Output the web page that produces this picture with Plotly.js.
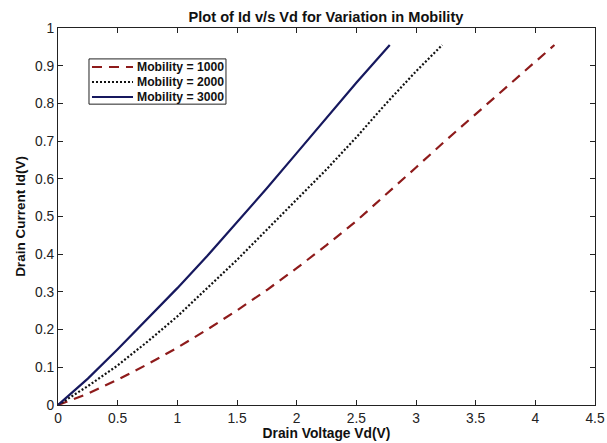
<!DOCTYPE html>
<html>
<head>
<meta charset="utf-8">
<script src="https://cdn.plot.ly/plotly-3.0.1.min.js"></script>
<style>html,body{margin:0;padding:0;background:#fff;}#chart{width:607px;height:443px;}</style>
</head>
<body>
<div id="chart"></div>
<script>
// Mobility = 1000
const vd1000 = [0, 0.25, 0.5, 0.75, 1, 1.25, 1.5, 1.75, 2, 2.25, 2.5, 2.75, 3, 3.25, 3.5, 3.75, 4, 4.16];
const id1000 = [0, 0.03, 0.067, 0.108, 0.152, 0.2, 0.251, 0.305, 0.363, 0.424, 0.488, 0.558, 0.63, 0.702, 0.772, 0.842, 0.91, 0.955];
// Mobility = 2000
const vd2000 = [0, 0.25, 0.5, 0.75, 1, 1.25, 1.5, 1.75, 2, 2.25, 2.5, 2.75, 3, 3.22];
const id2000 = [0, 0.05, 0.105, 0.168, 0.235, 0.31, 0.385, 0.465, 0.545, 0.625, 0.71, 0.8, 0.885, 0.955];
// Mobility = 3000
const vd3000 = [0, 0.25, 0.5, 0.75, 1, 1.25, 1.5, 1.75, 2, 2.25, 2.5, 2.78];
const id3000 = [0, 0.07, 0.148, 0.228, 0.31, 0.395, 0.485, 0.575, 0.668, 0.76, 0.855, 0.955];

const names = ['Mobility = 1000', 'Mobility = 2000', 'Mobility = 3000'];
const xTicks = [0, 0.5, 1, 1.5, 2, 2.5, 3, 3.5, 4, 4.5];
const yTicks = [0, 0.1, 0.2, 0.3, 0.4, 0.5, 0.6, 0.7, 0.8, 0.9, 1];

const FONT = 'Liberation Sans, Arial, sans-serif';
const lineStyles = [
  {color: '#8e1b1b', width: 2.2, dash: '10px,7px'},
  {color: '#111111', width: 2.2, dash: '2px,2px'},
  {color: '#16185e', width: 2.2}
];
const series = [[vd1000, id1000], [vd2000, id2000], [vd3000, id3000]];

const traces = series.map((s, i) => ({
  x: s[0], y: s[1], name: names[i], mode: 'lines', line: lineStyles[i], showlegend: false
}));

// Custom legend (MATLAB-style compact box), placed in paper coordinates
const legX0 = 0.0577, legX1 = 0.3128, legY0 = 0.798, legY1 = 0.918;
const rowY = [0.8966, 0.8568, 0.8170];
const shapes = [{type: 'rect', xref: 'paper', yref: 'paper', x0: legX0, x1: legX1, y0: legY0, y1: legY1,
                 line: {color: '#222', width: 1}, fillcolor: '#fff', layer: 'above'}];
const annotations = [];
names.forEach((n, i) => {
  shapes.push({type: 'line', xref: 'paper', yref: 'paper', x0: 0.0633, x1: 0.1397, y0: rowY[i], y1: rowY[i],
               line: lineStyles[i], layer: 'above'});
  annotations.push({xref: 'paper', yref: 'paper', x: 0.1425, y: rowY[i], xanchor: 'left', yanchor: 'middle',
                    text: '<b>' + n + '</b>', showarrow: false, font: {family: FONT, size: 12.2, color: '#111'}});
});

const axisCommon = {
  showgrid: false, zeroline: false, showline: true, linecolor: '#222', linewidth: 1,
  mirror: 'ticks', ticks: 'inside', ticklen: 5, tickcolor: '#222',
  tickfont: {family: FONT, size: 13.8, color: '#222'}
};

const layout = {
  width: 607, height: 443,
  margin: {l: 58, r: 12, t: 28, b: 38},
  paper_bgcolor: '#fff', plot_bgcolor: '#fff',
  title: {text: '<b>Plot of Id v/s Vd for Variation in Mobility</b>', x: 0.537, xanchor: 'center', y: 0.962, yanchor: 'middle',
          font: {family: FONT, size: 14.6, color: '#111'}},
  xaxis: Object.assign({}, axisCommon, {
    range: [0, 4.5], tickvals: xTicks, ticktext: xTicks.map(String),
    title: {text: '<b>Drain Voltage Vd(V)</b>', standoff: 3, font: {family: FONT, size: 13.8, color: '#111'}}
  }),
  yaxis: Object.assign({}, axisCommon, {
    range: [0, 1], tickvals: yTicks, ticktext: yTicks.map(String),
    title: {text: '<b>Drain Current Id(V)</b>', standoff: 6, font: {family: FONT, size: 13.5, color: '#111'}}
  }),
  showlegend: false,
  shapes: shapes,
  annotations: annotations
};

Plotly.newPlot('chart', traces, layout, {displayModeBar: false, staticPlot: true});
</script>
</body>
</html>
